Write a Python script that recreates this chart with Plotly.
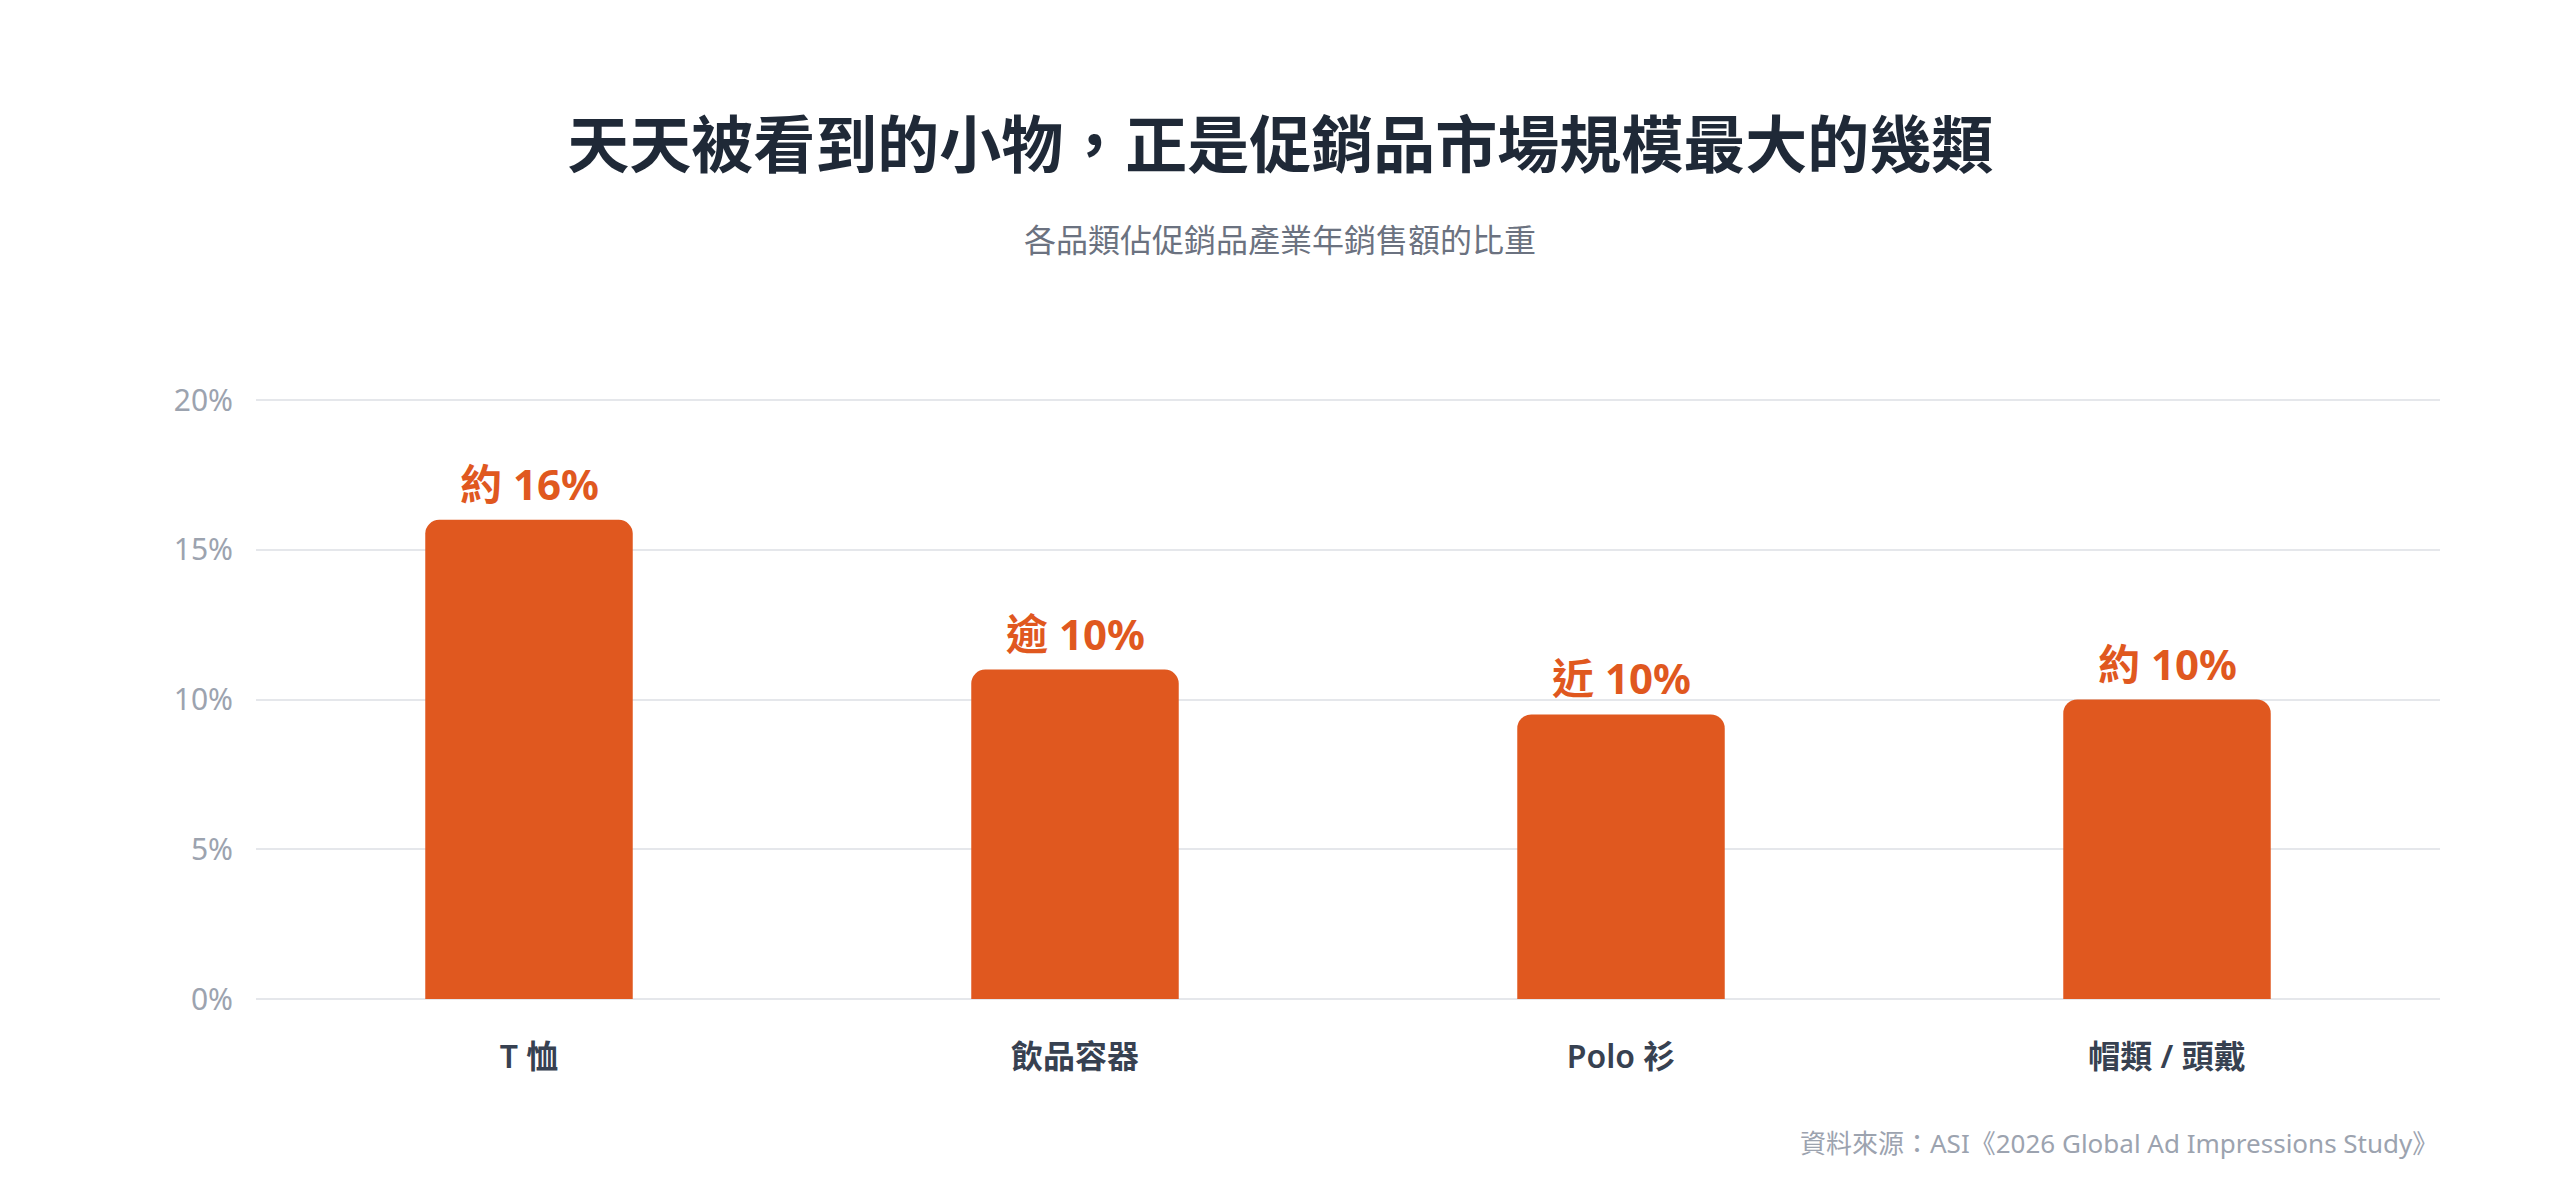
import plotly.graph_objects as go

# Share of annual promotional-products sales by category
categories = ["T 恤", "飲品容器", "Polo 衫", "帽類 / 頭戴"]
shares = [16, 11, 9.5, 10]
label_prefix = ["約", "逾", "近", "約"]
label_values = ["16%", "10%", "10%", "10%"]
y_ticks = [0, 5, 10, 15, 20]
y_tick_text = ["0%", "5%", "10%", "15%", "20%"]

orange = "#E0581F"
font_family = "Noto Sans, Noto Sans CJK TC, sans-serif"

fig = go.Figure()
fig.add_trace(go.Bar(
    x=categories,
    y=shares,
    width=0.38,
    marker=dict(color=orange, cornerradius=14, line=dict(width=0)),
    hoverinfo="skip",
))

# value labels above each bar
for cat, val, pre, txt in zip(categories, shares, label_prefix, label_values):
    fig.add_annotation(
        x=cat, y=val, xref="x", yref="y",
        text=f"{pre} {txt}", showarrow=False,
        yanchor="bottom", yshift=6,
        font=dict(family=font_family, size=42, color=orange, weight="bold"),
    )

fig.add_annotation(
    x=0.469, y=1.261, xref="paper", yref="paper", yanchor="middle",
    text="各品類佔促銷品產業年銷售額的比重", showarrow=False,
    font=dict(family=font_family, size=32, color="#6b7280"),
)
fig.add_annotation(
    x=1, y=-0.239, xref="paper", yref="paper", xanchor="right", yanchor="middle",
    text="資料來源：ASI《2026 Global Ad Impressions Study》", showarrow=False,
    font=dict(family=font_family, size=26, color="#9ca3af"),
)

fig.update_layout(
    width=2560, height=1186,
    paper_bgcolor="white", plot_bgcolor="white",
    margin=dict(l=248, r=128, t=389, b=195),
    showlegend=False,
    title=dict(
        text="天天被看到的小物，正是促銷品市場規模最大的幾類",
        x=0.497, xanchor="center", y=1 - 138 / 1186, yanchor="middle",
        font=dict(family=font_family, size=62, color="#1f2937", weight="bold"),
    ),
    xaxis=dict(
        showgrid=False, showline=False, zeroline=False,
        ticks="", ticklabelstandoff=36,
        tickfont=dict(family=font_family, size=32, color="#374151", weight=600),
    ),
    yaxis=dict(
        range=[0, 20.1], tickvals=y_ticks, ticktext=y_tick_text,
        showgrid=True, gridcolor="#e5e7eb", gridwidth=2,
        zeroline=True, zerolinecolor="#e5e7eb", zerolinewidth=2,
        showline=False, ticks="", ticklabelstandoff=22,
        tickfont=dict(family=font_family, size=30, color="#9ca3af"),
    ),
)

fig.write_html("out.html")
